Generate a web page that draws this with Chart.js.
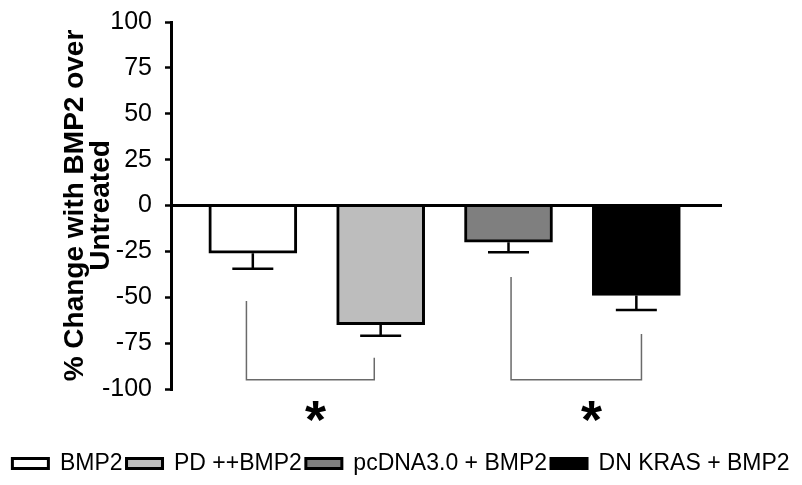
<!DOCTYPE html>
<html>
<head>
<meta charset="utf-8">
<script src="https://cdn.jsdelivr.net/npm/chart.js@4"></script>
<style>
  html, body { margin: 0; padding: 0; background: #fff; }
  #wrap { width: 802px; height: 485px; }
</style>
</head>
<body>
<div id="wrap"><canvas id="myChart"></canvas></div>
<script>
// Values
var groups = ['BMP2', 'PD ++BMP2', 'pcDNA3.0 + BMP2', 'DN KRAS + BMP2'];
var positions = [1, 2, 3, 4];
var changes = [-26, -65, -20, -49];
var errors = [8.5, 6, 5.5, 8];
var fills = ['#ffffff', '#bdbdbd', '#7f7f7f', '#000000'];
var yTicks = [100, 75, 50, 25, 0, -25, -50, -75, -100];

// significance brackets and stars
var bracketLeft = [{x: 0.95, y: -52}, {x: 0.95, y: -95}, {x: 1.95, y: -95}, {x: 1.95, y: -83}];
var bracketRight = [{x: 3.02, y: -39}, {x: 3.02, y: -95}, {x: 4.04, y: -95}, {x: 4.04, y: -70}];
var starX = [1.49, 3.65];
var starY = -112;

var font = '"Liberation Sans", Arial, Helvetica, sans-serif';
Chart.defaults.color = '#000';
Chart.defaults.font.family = font;

var datasets = groups.map(function(name, i) {
  return {
    type: 'bar',
    label: name,
    data: [{x: positions[i], y: changes[i]}],
    backgroundColor: fills[i],
    borderColor: '#000',
    borderWidth: 3,
    borderSkipped: 'start',
    barThickness: 88,
    grouped: false
  };
});

[bracketLeft, bracketRight].forEach(function(pts) {
  datasets.push({
    type: 'line',
    label: '',
    data: pts,
    borderColor: '#6a6a6a',
    borderWidth: 1.5,
    pointRadius: 0,
    fill: false,
    tension: 0
  });
});

// error bars and asterisks
var extras = {
  id: 'extras',
  afterDatasetsDraw: function(chart) {
    var ctx = chart.ctx;
    var y = chart.scales.y;
    ctx.save();
    ctx.strokeStyle = '#000';
    ctx.lineWidth = 2.5;
    groups.forEach(function(g, i) {
      var bar = chart.getDatasetMeta(i).data[0];
      var yEnd = y.getPixelForValue(changes[i] - errors[i]);
      ctx.beginPath();
      ctx.moveTo(bar.x, bar.y);
      ctx.lineTo(bar.x, yEnd);
      ctx.moveTo(bar.x - 20.5, yEnd);
      ctx.lineTo(bar.x + 20.5, yEnd);
      ctx.stroke();
    });
    ctx.restore();
  },
  afterDraw: function(chart) {
    var ctx = chart.ctx;
    var x = chart.scales.x;
    var y = chart.scales.y;
    ctx.save();
    ctx.fillStyle = '#000';
    ctx.font = 'bold 54px ' + font;
    ctx.textAlign = 'center';
    ctx.textBaseline = 'alphabetic';
    var m = ctx.measureText('*');
    var shift = (m.actualBoundingBoxAscent - m.actualBoundingBoxDescent) / 2;
    starX.forEach(function(sx) {
      ctx.fillText('*', x.getPixelForValue(sx), y.getPixelForValue(starY) + shift);
    });
    ctx.restore();
  }
};

function noVerticalPadding(scale) {
  scale.paddingTop = 0;
  scale.paddingBottom = 0;
}

var ctx = document.getElementById('myChart').getContext('2d');
var myChart = new Chart(ctx, {
  type: 'bar',
  data: { datasets: datasets },
  plugins: [extras],
  options: {
    responsive: true,
    maintainAspectRatio: false,
    animation: false,
    layout: { padding: { top: 22, left: 0, right: 0, bottom: 0 } },
    plugins: {
      tooltip: { enabled: false },
      legend: {
        position: 'bottom',
        labels: {
          filter: function(item) { return item.datasetIndex < groups.length; },
          font: { size: 23, family: font },
          color: '#000',
          boxWidth: 36,
          boxHeight: 10,
          padding: 4
        }
      }
    },
    scales: {
      x: {
        type: 'linear',
        min: 0.36,
        max: 4.67,
        offset: false,
        grid: { display: false },
        border: { display: false },
        ticks: { display: false },
        afterFit: function(scale) { scale.height = 59; }
      },
      y: {
        min: -100,
        max: 100,
        z: 1,
        afterBuildTicks: function(scale) {
          scale.ticks = yTicks.map(function(v) { return {value: v}; });
        },
        afterFit: function(scale) {
          scale.width = 171;
          noVerticalPadding(scale);
        },
        grid: {
          color: function(c) { return c.tick && c.tick.value === 0 ? '#000' : 'rgba(0,0,0,0)'; },
          lineWidth: 3,
          tickColor: '#000',
          tickWidth: 2.5,
          tickLength: 6
        },
        border: { display: true, color: '#000', width: 3 },
        ticks: {
          font: { size: 25, family: font },
          color: '#000',
          padding: 13
        },
        title: {
          display: true,
          text: ['% Change with BMP2 over', 'Untreated'],
          font: { size: 28, weight: 'bold', family: font, lineHeight: 0.9 },
          color: '#000',
          padding: { top: 63, bottom: 0 }
        }
      },
      yR: {
        position: 'right',
        display: true,
        grid: { display: false },
        border: { display: false },
        ticks: { display: false },
        afterFit: function(scale) {
          scale.width = 80;
          noVerticalPadding(scale);
        }
      }
    }
  }
});
</script>
</body>
</html>
